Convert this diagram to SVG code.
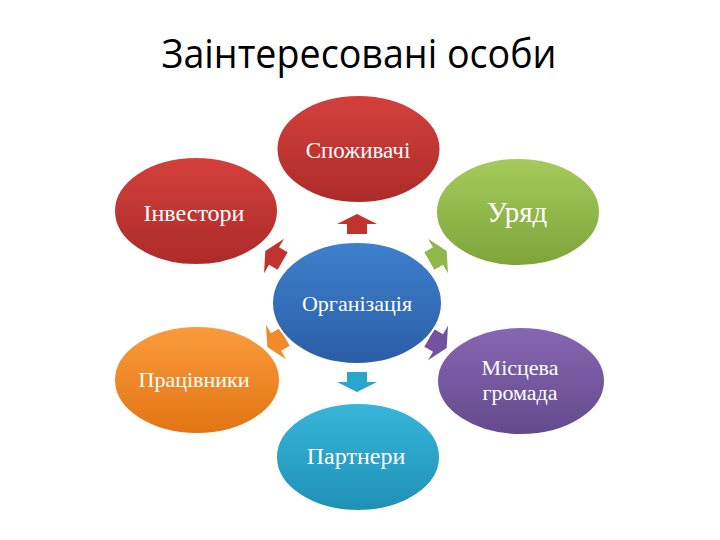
<svg xmlns="http://www.w3.org/2000/svg" width="720" height="540" viewBox="0 0 720 540">
<style>
.node ellipse{stroke:#ffffff;stroke-width:2}
.lbl{font-family:"Liberation Serif","Times New Roman",serif;fill:#ffffff;text-anchor:middle}
.title{font-family:"Open Sans","Liberation Sans",sans-serif;font-size:40px;fill:#000000;text-anchor:middle}
</style>
<defs>
<linearGradient id="gRed" x1="0" y1="0" x2="0" y2="1"><stop offset="0" stop-color="#d4403c"/><stop offset="1" stop-color="#ac2b29"/></linearGradient>
<linearGradient id="gGreen" x1="0" y1="0" x2="0" y2="1"><stop offset="0" stop-color="#a6cb5c"/><stop offset="1" stop-color="#7ea43a"/></linearGradient>
<linearGradient id="gBlue" x1="0" y1="0" x2="0" y2="1"><stop offset="0" stop-color="#3e80cc"/><stop offset="1" stop-color="#2a5ea6"/></linearGradient>
<linearGradient id="gOrange" x1="0" y1="0" x2="0" y2="1"><stop offset="0" stop-color="#fa9c3c"/><stop offset="1" stop-color="#e27414"/></linearGradient>
<linearGradient id="gPurple" x1="0" y1="0" x2="0" y2="1"><stop offset="0" stop-color="#8766b2"/><stop offset="1" stop-color="#644a8c"/></linearGradient>
<linearGradient id="gCyan" x1="0" y1="0" x2="0" y2="1"><stop offset="0" stop-color="#38b6da"/><stop offset="1" stop-color="#1e90b6"/></linearGradient>
<path id="arr" d="M-20,0 L0,-10 L20,0 L10,0 L10,10 L-10,10 L-10,0 Z"/>
</defs>
<rect width="720" height="540" fill="#ffffff"/>
<text class="title" x="359" y="68" textLength="395" lengthAdjust="spacingAndGlyphs">Заінтересовані особи</text>
<g id="connectors">
<use href="#arr" fill="#c0332f" transform="translate(357,224)"/>
<use href="#arr" fill="#c0332f" transform="translate(274,256) rotate(-60)"/>
<use href="#arr" fill="#8fb848" transform="translate(438,256) rotate(60)"/>
<use href="#arr" fill="#f08a2a" transform="translate(276,342) rotate(-120)"/>
<use href="#arr" fill="#7452a0" transform="translate(438,343) rotate(120)"/>
<use href="#arr" fill="#2aa6cc" transform="translate(357,382) rotate(180)"/>
</g>
<g id="n-spozhyvachi" class="node"><ellipse cx="358.5" cy="149" rx="82" ry="54" fill="url(#gRed)"/><text class="lbl" x="358" y="158" font-size="23">Споживачі</text></g>
<g id="n-investory" class="node"><ellipse cx="196" cy="211" rx="82" ry="54" fill="url(#gRed)"/><text class="lbl" x="194" y="221" font-size="24">Інвестори</text></g>
<g id="n-uriad" class="node"><ellipse cx="518" cy="212" rx="82" ry="54" fill="url(#gGreen)"/><text class="lbl" x="517" y="222" font-size="29">Уряд</text></g>
<g id="n-orhanizatsiia" class="node"><ellipse cx="357" cy="303" rx="85" ry="61" fill="url(#gBlue)"/><text class="lbl" x="357" y="311" font-size="22">Організація</text></g>
<g id="n-pratsivnyky" class="node"><ellipse cx="197" cy="380" rx="83" ry="54" fill="url(#gOrange)"/><text class="lbl" x="194" y="387" font-size="22">Працівники</text></g>
<g id="n-mistseva" class="node"><ellipse cx="521" cy="381" rx="84" ry="54" fill="url(#gPurple)"/><text class="lbl" x="520" y="375" font-size="22">Місцева</text><text class="lbl" x="520" y="400" font-size="22">громада</text></g>
<g id="n-partnery" class="node"><ellipse cx="358" cy="457" rx="82" ry="54" fill="url(#gCyan)"/><text class="lbl" x="356" y="464" font-size="24">Партнери</text></g>
</svg>
